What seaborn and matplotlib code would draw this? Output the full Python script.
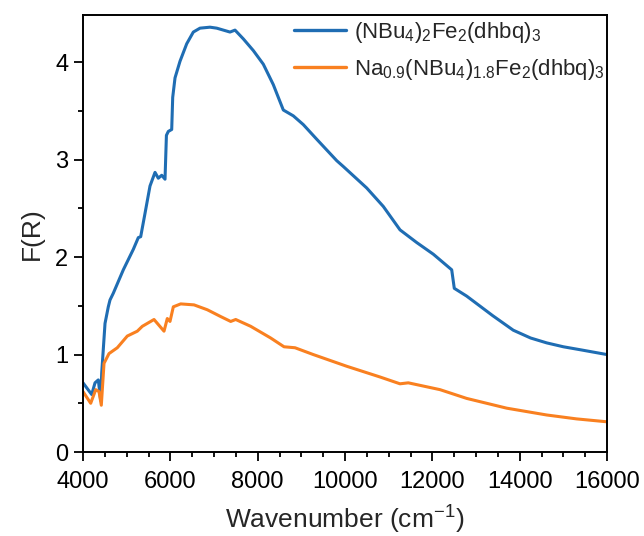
import matplotlib
matplotlib.use("Agg")
import matplotlib.pyplot as plt
import seaborn as sns
import pandas as pd
from matplotlib.ticker import MultipleLocator

# ---- data ----
blue_x = [4000, 4199, 4275, 4350, 4405, 4428, 4504, 4579, 4618, 4694, 4923, 5152, 5266,
          5321, 5420, 5534, 5649, 5724, 5802, 5878, 5910, 5953, 6031, 6054, 6107, 6221,
          6375, 6526, 6679, 6908, 7062, 7366, 7481, 7671, 7900, 8129, 8358, 8472, 8587,
          8816, 9045, 9352, 9810, 9961, 10496, 10877, 11259, 11641, 12022, 12443, 12502,
          12786, 13380, 13853, 14250, 14618, 15000, 15381, 16000]
blue_y = [0.71, 0.59, 0.71, 0.74, 0.53, 0.81, 1.32, 1.49, 1.56, 1.63, 1.87, 2.08, 2.20,
          2.21, 2.45, 2.73, 2.87, 2.81, 2.84, 2.80, 3.25, 3.29, 3.31, 3.64, 3.84, 4.01,
          4.19, 4.31, 4.35, 4.36, 4.35, 4.31, 4.33, 4.24, 4.12, 3.98, 3.77, 3.64, 3.51,
          3.45, 3.36, 3.21, 2.99, 2.93, 2.71, 2.52, 2.28, 2.15, 2.03, 1.87, 1.68,
          1.60, 1.40, 1.25, 1.17, 1.12, 1.08, 1.05, 1.00]

orange_x = [4000, 4176, 4291, 4366, 4419, 4481, 4595, 4785, 5014, 5243, 5358, 5626, 5855,
            5930, 5992, 6068, 6237, 6542, 6846, 7153, 7382, 7497, 7840, 8298, 8603, 8855,
            9274, 10039, 10801, 11259, 11449, 12175, 12786, 13702, 14618, 15300, 16000]
orange_y = [0.62, 0.50, 0.64, 0.62, 0.48, 0.91, 1.01, 1.07, 1.19, 1.24, 1.29, 1.36, 1.24,
            1.37, 1.34, 1.49, 1.52, 1.51, 1.46, 1.39, 1.34, 1.36, 1.29, 1.17, 1.08, 1.07,
            1.00, 0.88, 0.77, 0.70, 0.71, 0.64, 0.55, 0.45, 0.38, 0.34, 0.31]

x_ticks = [4000, 6000, 8000, 10000, 12000, 14000, 16000]
y_ticks = [0, 1, 2, 3, 4]

labels = [r"(NBu$_4$)$_2$Fe$_2$(dhbq)$_3$",
          r"Na$_{0.9}$(NBu$_4$)$_{1.8}$Fe$_2$(dhbq)$_3$"]
colors = ["#1f6db3", "#f98020"]
x_label = r"Wavenumber (cm$^{-1}$)"
y_label = "F(R)"

# ---- styling ----
sns.set_theme(style="ticks")
plt.rcParams["font.family"] = ["Liberation Sans", "DejaVu Sans"]
plt.rcParams["mathtext.fontset"] = "custom"
plt.rcParams["mathtext.rm"] = "Liberation Sans"
plt.rcParams["mathtext.it"] = "Liberation Sans:italic"
plt.rcParams["mathtext.bf"] = "Liberation Sans:bold"
plt.rcParams["mathtext.default"] = "regular"

df = pd.concat([
    pd.DataFrame({"x": blue_x, "y": blue_y, "series": labels[0]}),
    pd.DataFrame({"x": orange_x, "y": orange_y, "series": labels[1]}),
], ignore_index=True)

fig = plt.figure(figsize=(6.44, 5.36), dpi=100)
ax = fig.add_axes([0.1289, 0.1567, 0.8137, 0.8144])

sns.lineplot(data=df, x="x", y="y", hue="series", palette=colors, sort=False,
             linewidth=2.2, ax=ax, legend=True)

ax.set_xlim(4000, 16000)
ax.set_ylim(0, 4.48)
ax.set_xticks(x_ticks)
ax.set_yticks(y_ticks)
ax.xaxis.set_minor_locator(MultipleLocator(500))
ax.yaxis.set_minor_locator(MultipleLocator(0.5))
ax.tick_params(which="major", direction="out", length=6.5, width=1.3, colors="black",
               labelsize=17, top=False, right=False)
ax.tick_params(which="minor", direction="out", length=3.5, width=1.3, colors="black",
               top=False, right=False)
ax.tick_params(axis="x", which="major", pad=7)
ax.tick_params(axis="y", which="major", pad=4)
for s in ax.spines.values():
    s.set_visible(True)
    s.set_linewidth(1.4)
    s.set_color("black")

ax.set_xlabel(x_label, fontsize=19, labelpad=8)
ax.set_ylabel(y_label, fontsize=19, labelpad=8)

handles, _ = ax.get_legend_handles_labels()
leg = ax.legend(handles=handles, labels=labels, loc="upper right",
                bbox_to_anchor=(1.0, 0.995), frameon=False,
                fontsize=16, handlelength=2.35, handletextpad=0.35,
                borderaxespad=0.0, borderpad=0.1, labelspacing=0.55)
for h in leg.get_lines():
    h.set_linewidth(2.4)

fig.savefig("out.png", dpi=100)
